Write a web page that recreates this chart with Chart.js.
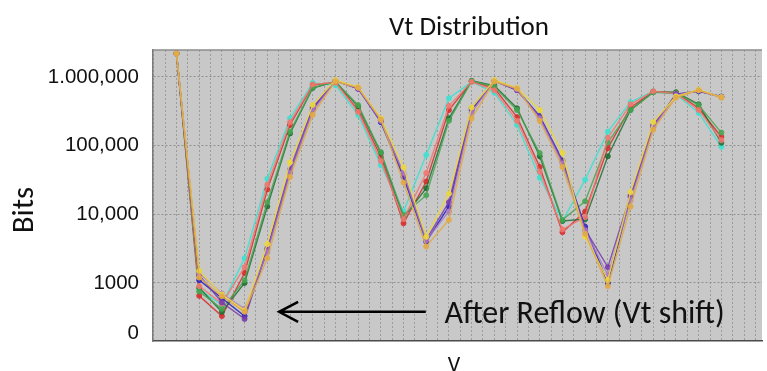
<!DOCTYPE html>
<html>
<head>
<meta charset="utf-8">
<script src="https://cdn.jsdelivr.net/npm/chart.js@4.4.1/dist/chart.umd.min.js"></script>
<style>
  html, body { margin: 0; padding: 0; background: #fff; }
  #wrap { width: 767px; height: 371px; }
</style>
</head>
<body>
<div id="wrap"><canvas id="grafico" width="767" height="371"></canvas></div>
<script>
// passos de tensao (eixo V, sem rotulos)
var vSteps = [0, 1, 2, 3, 4, 5, 6, 7, 8, 9, 10, 11, 12, 13, 14, 15, 16, 17, 18, 19, 20, 21, 22, 23, 24];

// antes do reflow (curvas mais a esquerda)
var tealA      = [2200000, 800, 480, 2300, 33000, 250000, 820000, 760000, 280000, 52000, 11000, 73000, 490000, 850000, 590000, 200000, 34000, 8000, 32000, 160000, 430000, 620000, 560000, 300000, 96000];
var greenA     = [2200000, 750, 420, 1100, 15000, 160000, 700000, 850000, 390000, 81000, 9800, 19000, 230000, 870000, 720000, 330000, 78000, 8300, 15500, 112000, 330000, 600000, 580000, 390000, 155000];
var redA       = [2200000, 650, 330, 1400, 23000, 200000, 760000, 840000, 330000, 69000, 7400, 30000, 330000, 860000, 690000, 260000, 49000, 5500, 11000, 92000, 360000, 610000, 590000, 350000, 135000];
var darkGreenA = [2200000, 850, 380, 1000, 13000, 150000, 690000, 860000, 370000, 78000, 9000, 24000, 250000, 880000, 750000, 350000, 70000, 8000, 8500, 70000, 330000, 600000, 600000, 400000, 110000];
var salmonA    = [2200000, 900, 500, 1700, 27000, 220000, 780000, 830000, 310000, 60000, 8500, 40000, 380000, 850000, 640000, 230000, 42000, 6000, 9100, 130000, 400000, 620000, 570000, 330000, 120000];

// depois do reflow (Vt shift)
var blueB   = [2200000, 1100, 600, 330, 3000, 41000, 340000, 880000, 680000, 220000, 35000, 4000, 13000, 330000, 880000, 650000, 270000, 61000, 6600, 1000, 18000, 190000, 560000, 620000, 520000];
var purpleB = [2200000, 1300, 520, 300, 3200, 45000, 360000, 890000, 670000, 230000, 38000, 4300, 15000, 350000, 870000, 640000, 260000, 58000, 6000, 1700, 19000, 200000, 550000, 630000, 510000];
var yellowB = [2200000, 1500, 680, 400, 3700, 57000, 390000, 900000, 710000, 250000, 48000, 4700, 20000, 360000, 900000, 690000, 330000, 78000, 4700, 1100, 21000, 220000, 520000, 650000, 510000];
var orangeB = [2200000, 1200, 640, 380, 2300, 35000, 280000, 860000, 700000, 240000, 29000, 3400, 8300, 250000, 860000, 680000, 230000, 49000, 5200, 900, 13000, 170000, 500000, 640000, 500000];
var lilacB  = [2200000, 1400, 700, 420, 2800, 40000, 320000, 870000, 690000, 230000, 40000, 4200, 11000, 300000, 870000, 660000, 250000, 55000, 5800, 1300, 16000, 185000, 540000, 640000, 505000];

var yTickValues = [187, 1000, 10000, 100000, 1000000];
var yTickLabels = ['0', '1000', '10,000', '100,000', '1.000,000'];

// seta "After Reflow": de / ate (passo V) e nivel (Bits)
var arrowFrom = 10.98;
var arrowTo = 4.52;
var arrowLevel = 380;
var noteAt = 11.8;

var series = [orangeB, yellowB, lilacB, purpleB, blueB, salmonA, greenA, darkGreenA, redA, tealA];
var cores = [
    'rgba(225, 170, 70, 0.9)',
    'rgba(235, 215, 60, 0.9)',
    'rgba(170, 120, 200, 0.8)',
    'rgba(120, 60, 170, 0.85)',
    'rgba(50, 40, 190, 0.9)',
    'rgba(240, 120, 110, 0.85)',
    'rgba(70, 165, 80, 0.85)',
    'rgba(30, 110, 50, 0.85)',
    'rgba(215, 45, 45, 0.85)',
    'rgba(64, 224, 208, 0.9)'
];

var datasets = series.map(function (s, i) {
    return {
        data: vSteps.map(function (x, j) { return { x: x, y: s[j] }; }),
        borderColor: cores[i],
        backgroundColor: cores[i],
        pointBackgroundColor: cores[i],
        pointBorderColor: cores[i],
        borderWidth: 1.4,
        pointRadius: 2.5,
        pointBorderWidth: 1,
        tension: 0
    };
});

var fonteTexto = 'Carlito, Lato, sans-serif';

var moldura = {
    id: 'moldura',
    beforeDraw: function (chart) {
        var a = chart.chartArea, ctx = chart.ctx;
        ctx.save();
        ctx.fillStyle = '#c8c8c8';
        ctx.fillRect(a.left, a.top, a.right - a.left, a.bottom - a.top);
        ctx.restore();
    },
    afterDraw: function (chart) {
        var a = chart.chartArea, ctx = chart.ctx;
        var xs = chart.scales.x, ys = chart.scales.y;
        ctx.save();
        ctx.strokeStyle = '#8c8c8c';
        ctx.lineWidth = 1.5;
        ctx.beginPath();
        ctx.moveTo(a.left, a.top);
        ctx.lineTo(a.right, a.top);
        ctx.stroke();

        ctx.fillStyle = '#111';
        ctx.font = '27px ' + fonteTexto;
        ctx.textAlign = 'center';
        ctx.textBaseline = 'alphabetic';
        ctx.fillText('Vt Distribution', 469, 35);

        // titulo do eixo x
        ctx.font = '22px ' + fonteTexto;
        ctx.fillText('V', 454, 372);

        // titulo do eixo y
        ctx.save();
        ctx.translate(33, 210);
        ctx.rotate(-Math.PI / 2);
        ctx.font = '31px ' + fonteTexto;
        ctx.fillText('Bits', 0, 0);
        ctx.restore();

        var yA = ys.getPixelForValue(arrowLevel);
        var x1 = xs.getPixelForValue(arrowFrom);
        var x2 = xs.getPixelForValue(arrowTo);
        ctx.strokeStyle = '#000';
        ctx.lineWidth = 2.5;
        ctx.beginPath();
        ctx.moveTo(x1, yA);
        ctx.lineTo(x2, yA);
        ctx.moveTo(x2 + 19, yA - 10);
        ctx.lineTo(x2, yA);
        ctx.lineTo(x2 + 19, yA + 10);
        ctx.stroke();

        ctx.font = '32px ' + fonteTexto;
        ctx.textAlign = 'left';
        ctx.fillText('After Reflow (Vt shift)', xs.getPixelForValue(noteAt), yA + 11);
        ctx.restore();
    }
};

var ctx = document.getElementById('grafico').getContext('2d');
var grafico = new Chart(ctx, {
    type: 'line',
    data: { datasets: datasets },
    plugins: [moldura],
    options: {
        responsive: false,
        animation: false,
        devicePixelRatio: 1,
        layout: { padding: { top: 50, right: 0, bottom: 0, left: 0 } },
        plugins: {
            legend: { display: false },
            tooltip: { enabled: false }
        },
        scales: {
            x: {
                type: 'linear',
                min: -1.035,
                max: 25.79,
                afterBuildTicks: function (scale) {
                    var t = [];
                    for (var v = -1; v <= 25.5; v += 0.5) t.push({ value: v });
                    scale.ticks = t;
                },
                afterFit: function (scale) { scale.height = 30; },
                ticks: { display: false },
                grid: { color: 'rgba(135, 135, 135, 0.7)', lineWidth: 1, drawTicks: false },
                border: { display: true, color: '#4a4a4a', width: 1.5, dash: [2, 2] }
            },
            y: {
                type: 'logarithmic',
                min: 143,
                max: 2470000,
                afterBuildTicks: function (scale) {
                    scale.ticks = yTickValues.map(function (v) { return { value: v }; });
                },
                afterFit: function (scale) { scale.width = 153; },
                ticks: {
                    padding: 14,
                    color: '#111',
                    font: { family: 'Arial, "Liberation Sans", sans-serif', size: 20.5 },
                    callback: function (v) {
                        var i = yTickValues.indexOf(v);
                        return i >= 0 ? yTickLabels[i] : '';
                    }
                },
                grid: {
                    drawTicks: false,
                    lineWidth: 1,
                    color: function (c) {
                        return c.tick && c.tick.value === yTickValues[0] ? 'rgba(0,0,0,0)' : 'rgba(130, 130, 130, 0.8)';
                    }
                },
                border: { display: true, color: '#7a7a7a', width: 1.5, dash: [2, 2] }
            }
        }
    }
});
</script>
</body>
</html>
